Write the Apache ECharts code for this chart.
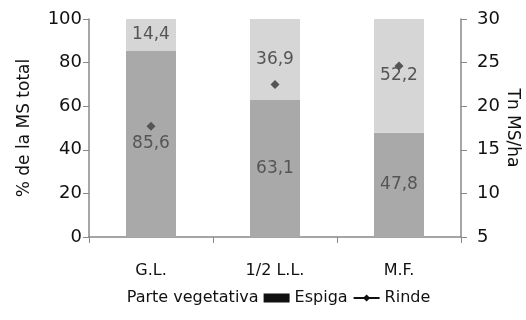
<!DOCTYPE html>
<html>
<head>
<meta charset="utf-8">
<script src="https://cdn.jsdelivr.net/npm/echarts@6/dist/echarts.min.js"></script>
<style>
  html, body { margin: 0; padding: 0; background: #fff; }
  #chart { width: 526px; height: 320px; }
</style>
</head>
<body>
<div id="chart"></div>
<script>
// Stages of harvest
const categories = ['G.L.', '1/2 L.L.', 'M.F.'];
// Share of total dry matter (%)
const espiga = [85.6, 63.1, 47.8];
const parteVegetativa = [14.4, 36.9, 52.2];
// Dry matter yield (Tn MS/ha)
const rinde = [17.7, 22.5, 24.6];
// Axis ticks
const leftTicks = [0, 20, 40, 60, 80, 100];
const rightTicks = [5, 10, 15, 20, 25, 30];

const axisFont = 'DejaVu Sans';
const chart = echarts.init(document.getElementById('chart'));

const fmt = v => String(v.toFixed(1)).replace('.', ',');

chart.setOption({
  animation: false,
  backgroundColor: '#fff',
  grid: { left: 89, right: 65, top: 19, bottom: 83, containLabel: false, outerBoundsMode: 'none' },
  legend: {
    bottom: 9,
    left: 'center',
    itemWidth: 26,
    itemHeight: 9,
    itemGap: 5,
    textStyle: { fontFamily: axisFont, fontSize: 16, color: '#111' },
    data: [
      { name: 'Parte vegetativa', icon: 'rect', itemStyle: { color: '#fff', borderWidth: 0 } },
      { name: 'Espiga', icon: 'rect', itemStyle: { color: '#111' } },
      { name: 'Rinde', lineStyle: { color: '#111', width: 2, opacity: 1 }, itemStyle: { color: '#111' } }
    ]
  },
  xAxis: {
    type: 'category',
    data: categories,
    axisLine: { lineStyle: { color: '#888', width: 1.5 } },
    axisTick: { show: true, length: 6, lineStyle: { color: '#888' } },
    axisLabel: { fontFamily: axisFont, fontSize: 16, color: '#111', margin: 26 }
  },
  yAxis: [
    {
      type: 'value',
      min: leftTicks[0],
      max: leftTicks[leftTicks.length - 1],
      interval: leftTicks[1] - leftTicks[0],
      name: '% de la MS total',
      nameLocation: 'middle',
      nameRotate: 90,
      nameGap: 56,
      nameMoveOverlap: false,
      nameTextStyle: { fontFamily: axisFont, fontSize: 17, color: '#111' },
      axisLine: { show: true, lineStyle: { color: '#888', width: 1.5 } },
      axisTick: { show: true, length: 6, inside: false, lineStyle: { color: '#888' } },
      splitLine: { show: false },
      axisLabel: { fontFamily: axisFont, fontSize: 18, color: '#111', margin: 7 }
    },
    {
      type: 'value',
      min: rightTicks[0],
      max: rightTicks[rightTicks.length - 1],
      interval: rightTicks[1] - rightTicks[0],
      position: 'right',
      name: 'Tn MS/ha',
      nameLocation: 'middle',
      nameRotate: -90,
      nameGap: 43,
      nameMoveOverlap: false,
      nameTextStyle: { fontFamily: axisFont, fontSize: 17, color: '#111' },
      axisLine: { show: true, lineStyle: { color: '#888', width: 1.5 } },
      axisTick: { show: true, length: 6, lineStyle: { color: '#888' } },
      splitLine: { show: false },
      axisLabel: { fontFamily: axisFont, fontSize: 18, color: '#111', margin: 16 }
    }
  ],
  series: [
    {
      name: 'Espiga',
      type: 'bar',
      stack: 'ms',
      data: espiga,
      barWidth: 50,
      itemStyle: { color: '#a9a9a9' },
      label: {
        show: true, position: 'inside', formatter: p => fmt(p.value),
        fontFamily: 'DejaVu Sans', fontSize: 17, color: '#555'
      }
    },
    {
      name: 'Parte vegetativa',
      type: 'bar',
      stack: 'ms',
      data: parteVegetativa,
      barWidth: 50,
      itemStyle: { color: '#d6d6d6' },
      label: {
        show: true, position: 'inside', formatter: p => fmt(p.value),
        fontFamily: 'DejaVu Sans', fontSize: 17, color: '#555'
      }
    },
    {
      name: 'Rinde',
      type: 'line',
      yAxisIndex: 1,
      data: rinde,
      symbol: 'diamond',
      symbolSize: 9,
      itemStyle: { color: '#555' },
      lineStyle: { opacity: 0 },
      z: 5
    }
  ]
});
</script>
</body>
</html>
